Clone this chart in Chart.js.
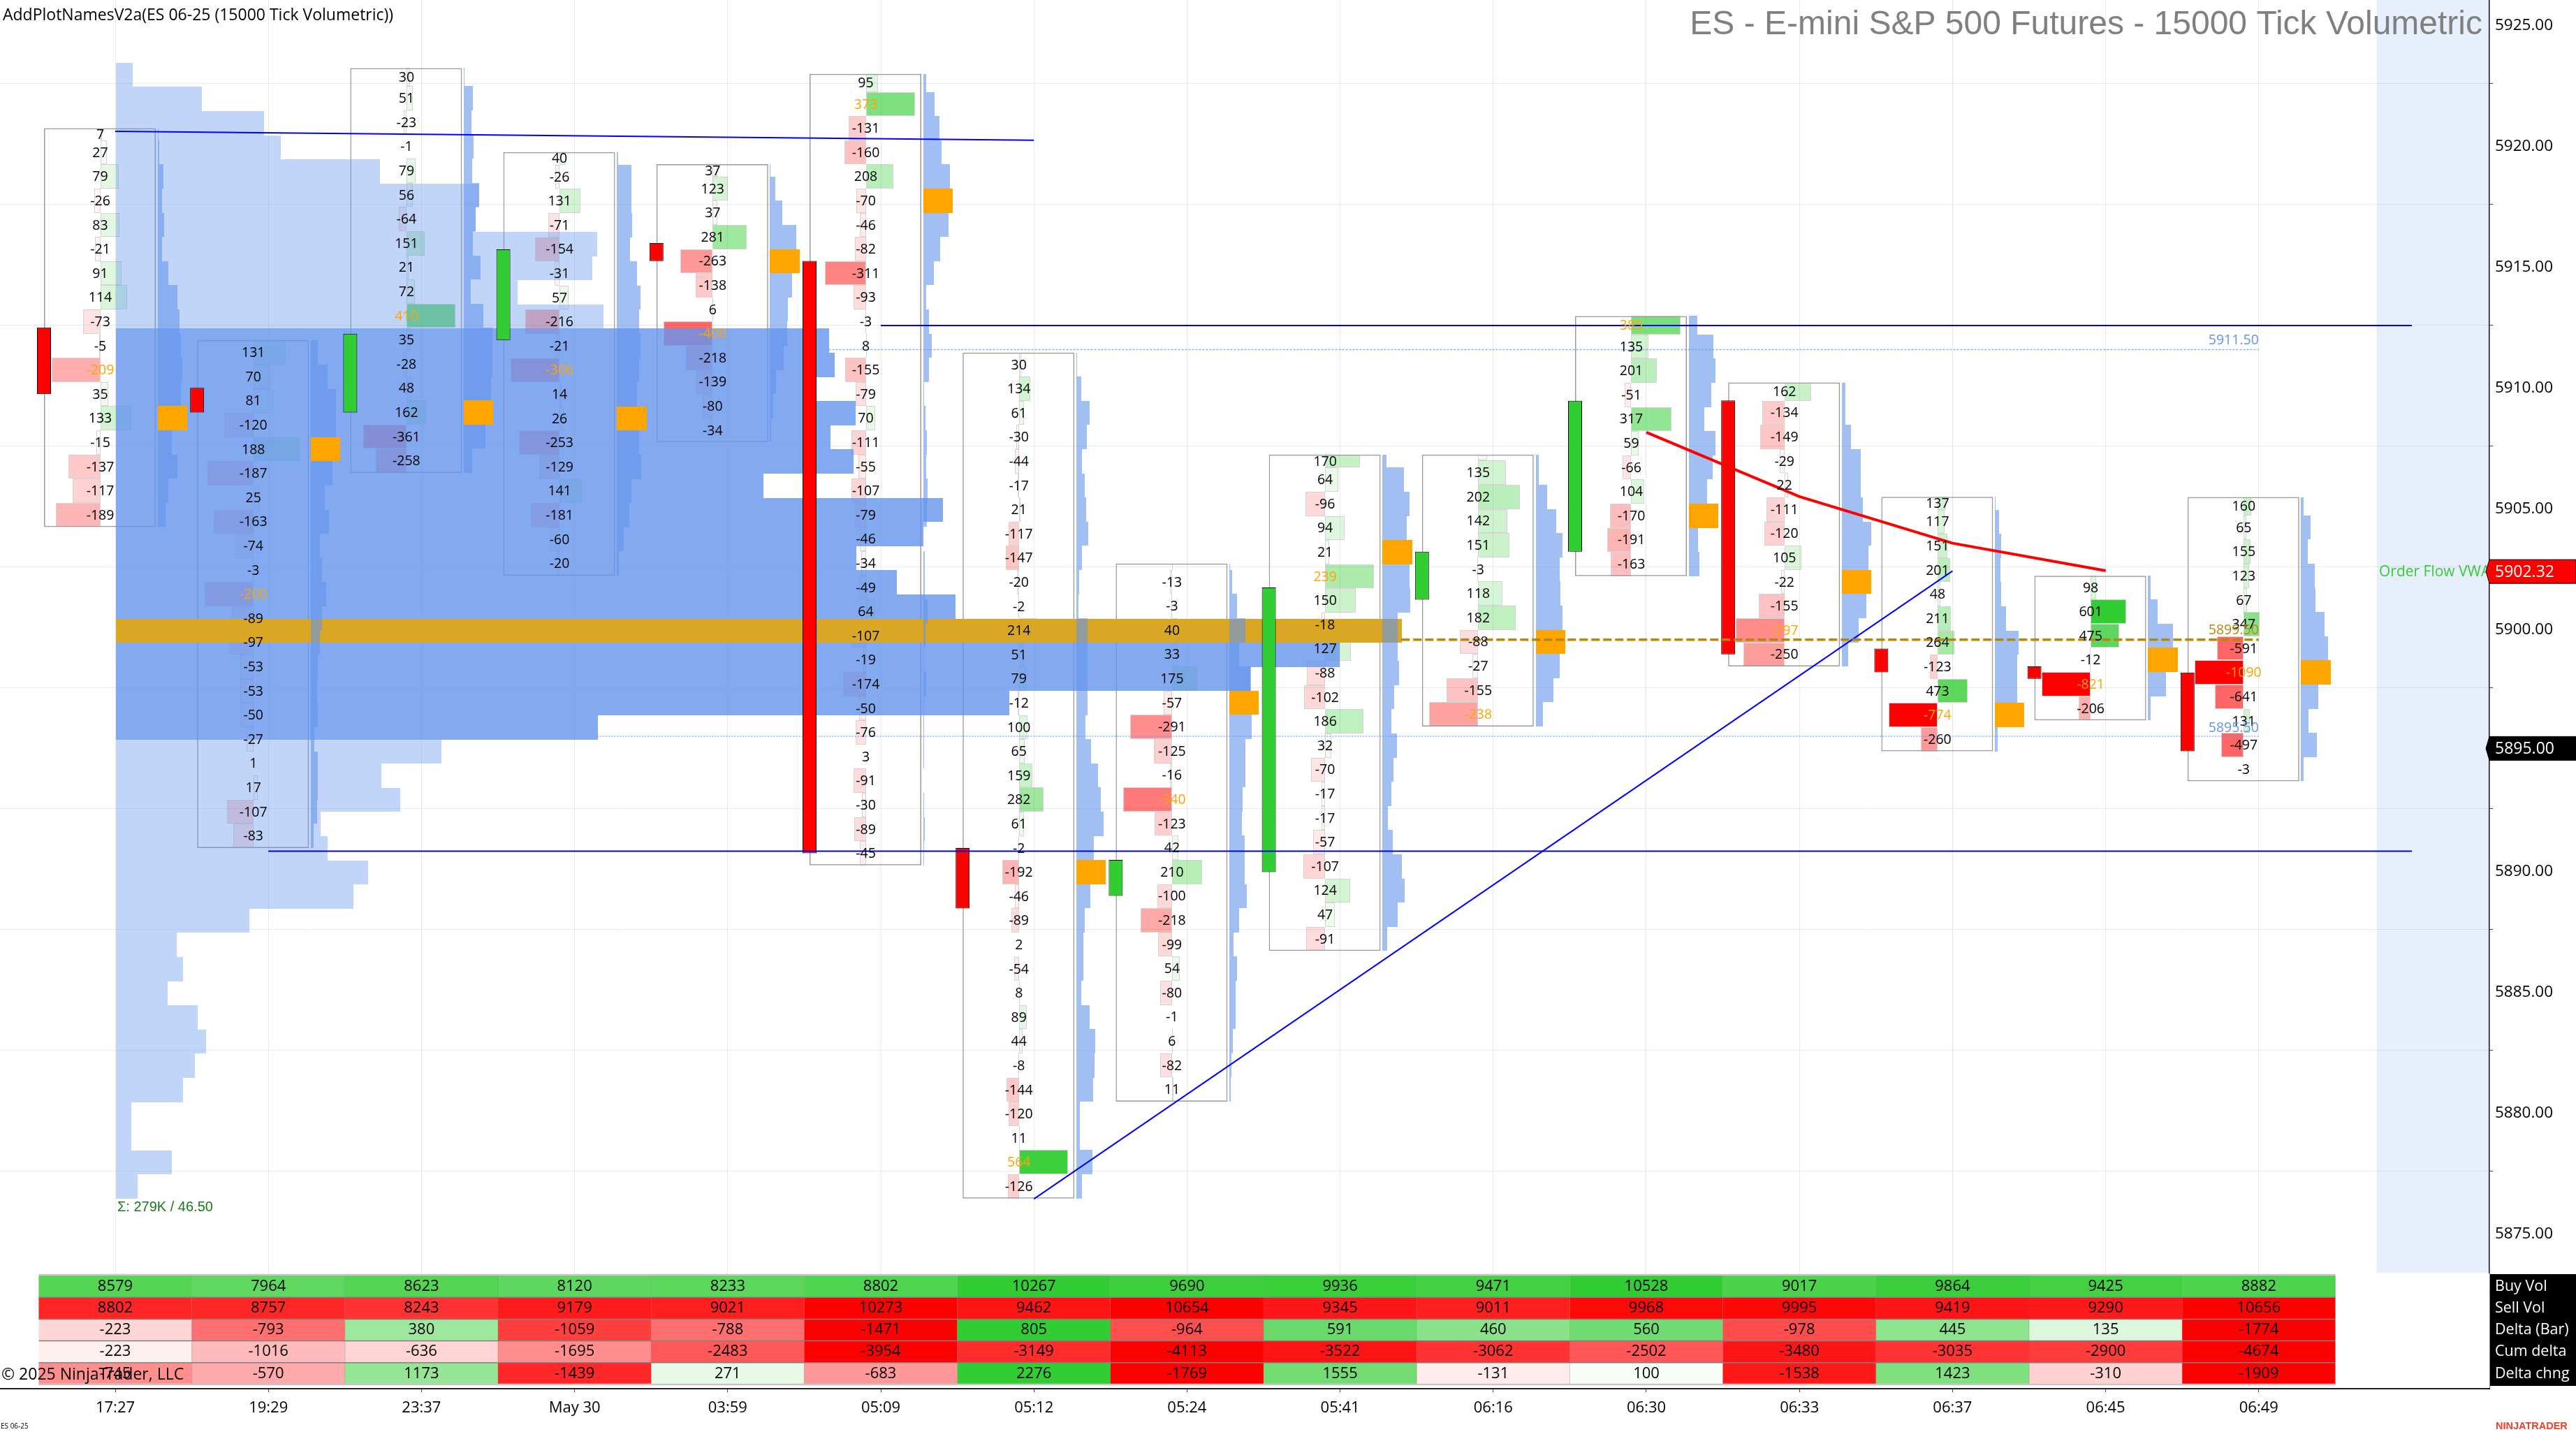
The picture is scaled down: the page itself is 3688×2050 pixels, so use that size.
<!DOCTYPE html>
<html>
<head>
<meta charset="utf-8">
<title>ES - E-mini S&amp;P 500 Futures - 15000 Tick Volumetric</title>
<script src="https://cdn.jsdelivr.net/npm/chart.js@4"></script>
<style>
  html, body { margin: 0; background: #fff; }
  canvas { display: block; }
</style>
</head>
<body>
<canvas id="chart" width="3688" height="2050"></canvas>
<script>
// data
const timeLabels = ["17:27", "19:29", "23:37", "May 30", "03:59", "05:09", "05:12", "05:24", "05:41", "06:16", "06:30", "06:33", "06:37", "06:45", "06:49"];
const priceTicks = [5875, 5880, 5885, 5890, 5895, 5900, 5905, 5910, 5915, 5920, 5925];

const candleOpen = [5912.42, 5909.92, 5908.90, 5911.90, 5915.91, 5915.17, 5890.88, 5888.90, 5889.88, 5901.15, 5903.14, 5909.40, 5899.13, 5898.39, 5898.14];
const candleClose = [5909.66, 5908.90, 5912.16, 5915.65, 5915.16, 5890.66, 5888.38, 5890.39, 5901.66, 5903.14, 5909.38, 5898.89, 5898.15, 5897.88, 5894.88];
const boxHigh = [5920.66, 5911.90, 5923.15, 5919.67, 5919.17, 5922.91, 5911.38, 5902.65, 5907.16, 5907.16, 5912.89, 5910.14, 5905.41, 5902.14, 5905.40];
const boxLow = [5904.16, 5890.88, 5906.40, 5902.15, 5907.66, 5890.16, 5876.38, 5880.39, 5886.62, 5895.91, 5902.13, 5898.39, 5894.88, 5896.16, 5893.64];

// delta per price row, top row first
const barDeltas = [
  [7, 27, 79, -26, 83, -21, 91, 114, -73, -5, -209, 35, 133, -15, -137, -117, -189],
  [131, 70, 81, -120, 188, -187, 25, -163, -74, -3, -200, -89, -97, -53, -53, -50, -27, 1, 17, -107, -83],
  [30, 51, -23, -1, 79, 56, -64, 151, 21, 72, 410, 35, -28, 48, 162, -361, -258],
  [40, -26, 131, -71, -154, -31, 57, -216, -21, -306, 14, 26, -253, -129, 141, -181, -60, -20],
  [37, 123, 37, 281, -263, -138, 6, -400, -218, -139, -80, -34],
  [95, 373, -131, -160, 208, -70, -46, -82, -311, -93, -3, 8, -155, -79, 70, -111, -55, -107, -79, -46, -34, -49, 64, -107, -19, -174, -50, -76, 3, -91, -30, -89, -45],
  [30, 134, 61, -30, -44, -17, 21, -117, -147, -20, -2, 214, 51, 79, -12, 100, 65, 159, 282, 61, -2, -192, -46, -89, 2, -54, 8, 89, 44, -8, -144, -120, 11, 564, -126],
  [4, -13, -3, 40, 33, 175, -57, -291, -125, -16, -340, -123, 42, 210, -100, -218, -99, 54, -80, -1, 6, -82, 11],
  [170, 64, -96, 94, 21, 239, 150, -18, 127, -88, -102, 186, 32, -70, -17, -17, -57, -107, 124, 47, -91],
  [43, 135, 202, 142, 151, -3, 118, 182, -88, -27, -155, -238],
  [385, 135, 201, -51, 317, 59, -66, 104, -170, -191, -163],
  [162, -134, -149, -29, 22, -111, -120, 105, -22, -155, -297, -250],
  [137, 117, 151, 201, 48, 211, 264, -123, 473, -774, -260],
  [98, 601, 475, -12, -821, -206],
  [160, 65, 155, 123, 67, 347, -591, -1090, -641, 131, -497, -3]
];

// volume per price row as percent of that bar's busiest row, top row first
const barProfiles = [
  [3, 5, 20, 14, 21, 14, 35, 67, 73, 79, 83, 79, 100, 47, 67, 35, 26],
  [23, 58, 86, 86, 100, 73, 48, 62, 32, 38, 52, 38, 32, 24, 21, 23, 12, 24, 24, 21, 9],
  [3, 31, 25, 34, 28, 51, 40, 31, 57, 24, 66, 96, 97, 91, 100, 73, 28],
  [3, 48, 48, 52, 45, 68, 80, 74, 80, 76, 68, 100, 76, 83, 50, 42, 23, 6],
  [2, 17, 41, 88, 100, 75, 60, 58, 45, 19, 11, 4],
  [11, 38, 56, 62, 91, 100, 85, 57, 37, 9, 20, 30, 20, 4, 7, 12, 9, 15, 12, 1, 5, 6, 15, 7, 2, 9, 2, 4, 2, 1, 2, 5, 2],
  [2, 16, 45, 35, 20, 28, 33, 40, 18, 9, 7, 39, 38, 38, 38, 32, 49, 74, 83, 93, 60, 100, 48, 28, 23, 23, 16, 45, 63, 61, 56, 13, 13, 54, 20],
  [2, 10, 26, 54, 32, 72, 100, 76, 55, 55, 44, 43, 52, 51, 59, 33, 15, 26, 20, 22, 12, 7, 4],
  [14, 72, 92, 81, 100, 92, 94, 52, 52, 55, 40, 30, 49, 37, 29, 19, 34, 65, 75, 52, 16],
  [10, 10, 39, 69, 92, 82, 85, 92, 100, 81, 61, 26],
  [28, 84, 90, 77, 52, 90, 81, 61, 100, 31, 37],
  [12, 12, 32, 63, 63, 71, 99, 89, 100, 83, 57, 22],
  [2, 14, 21, 19, 20, 38, 80, 75, 75, 100, 9],
  [9, 33, 85, 100, 60, 9],
  [9, 32, 22, 47, 49, 79, 91, 100, 58, 26, 53, 9]
];

// session volume profile, top row first
const sessionVolume = [246, 1226, 2098, 2334, 3733, 5132, 5083, 6797, 6728, 5674, 6885,
  10067, 10146, 9801, 10441, 10086, 10411, 9141, 11672, 11396, 10451, 11022, 11850,
  18144,
  17267, 16006, 12608, 6806,
  4600, 3753, 4019, 2891, 2994, 3566, 3359, 1891, 867, 955, 739, 1162, 1281, 1119, 955, 227, 227, 798, 315];
const sessionLow = 5876.37;
const sessionPocRow = 23;
const sessionVaTopRow = 11;
const sessionVaBottomRow = 27;

const buyVol = [8579, 7964, 8623, 8120, 8233, 8802, 10267, 9690, 9936, 9471, 10528, 9017, 9864, 9425, 8882];
const sellVol = [8802, 8757, 8243, 9179, 9021, 10273, 9462, 10654, 9345, 9011, 9968, 9995, 9419, 9290, 10656];
const deltaBar = [-223, -793, 380, -1059, -788, -1471, 805, -964, 591, 460, 560, -978, 445, 135, -1774];
const cumDelta = [-223, -1016, -636, -1695, -2483, -3954, -3149, -4113, -3522, -3062, -2502, -3480, -3035, -2900, -4674];
const deltaChange = [-745, -570, 1173, -1439, 271, -683, 2276, -1769, 1555, -131, 100, -1538, 1423, -310, -1909];
const tableNames = ["Buy Vol", "Sell Vol", "Delta (Bar)", "Cum delta", "Delta chng"];

// drawn lines, x is the bar slot
const upperTrendX = [0, 6];
const upperTrendY = [5920.53, 5920.16];
const highLevelX = [5, 15];
const highLevelY = [5912.5, 5912.5];
const lowLevelX = [1, 15];
const lowLevelY = [5890.75, 5890.75];
const riseTrendX = [6, 12];
const riseTrendY = [5876.36, 5902.34];
const vwapX = [10, 11, 12, 13];
const vwapY = [5908.08, 5905.42, 5903.49, 5902.35];
const pocLineX = [8.4, 14];
const pocLineY = [5899.5, 5899.5];
const vahLineX = [4.66, 14];
const vahLineY = [5911.5, 5911.5];
const valLineX = [3.15, 14];
const valLineY = [5895.5, 5895.5];

const SLOT_PX = 219.2;
const ROW_PX = 34.6;
const TICK0_PX = 165;
const CANDLE_X = -102 / SLOT_PX;
const BOX_X = -22 / SLOT_PX;
const DELTA_X = -21.5 / SLOT_PX;
const PROFILE_X = 60.7 / SLOT_PX;
const DELTA_SPAN = 70 / SLOT_PX;
const PROFILE_SPAN = 42.3 / SLOT_PX;
const SESSION_SCALE = 2159; // contracts per slot width
const UI_FONT = '"Open Sans"';

const CORNFLOWER = "100,149,237";
const LIME = "50,205,50";

function rowsOfBar(i) {
  const n = barDeltas[i].length;
  return barDeltas[i].map((delta, r) => {
    const lo = boxLow[i] + (n - 1 - r);
    const hi = Math.min(lo + 1, boxHigh[i]);
    return { delta, volume: barProfiles[i][r], mid: (lo + hi) / 2, px: (hi - lo) * ROW_PX, full: hi - lo > 0.999 };
  });
}

function deltaColor(v) {
  const a = Math.abs(v);
  if (v >= 0) return `rgba(${LIME},${Math.min(1, a / 600)})`;
  return `rgba(255,0,0,${a < 700 ? Math.min(0.6, a / 650) : 1})`;
}

function hBars(data, colors, thickness, border) {
  return {
    type: "bar", indexAxis: "y", data, backgroundColor: colors,
    barThickness: thickness, grouped: false, inflateAmount: 0, borderSkipped: false,
    borderWidth: border ? 1 : 0, borderColor: border || "transparent"
  };
}

function vBars(data, colors, thickness, borderColor, borderWidth) {
  return {
    type: "bar", data, backgroundColor: colors, borderColor, borderWidth,
    barThickness: thickness, grouped: false, inflateAmount: 0, borderSkipped: false
  };
}

function lineSet(xs, ys, color, width, dash) {
  return {
    type: "line", data: xs.map((x, k) => ({ x, y: ys[k] })), borderColor: color, borderWidth: width,
    borderDash: dash || [], pointRadius: 0, tension: 0, fill: false, borderCapStyle: "butt"
  };
}

function buildDatasets() {
  const out = [];

  // delta cells, the clipped top row of a bar gets its own thickness
  timeLabels.forEach((_, i) => {
    const rows = rowsOfBar(i);
    const width = DELTA_SPAN / Math.max(...barDeltas[i].map(Math.abs));
    const full = rows.filter(r => r.full);
    out.push(hBars(full.map(r => ({ y: r.mid, x: [i + DELTA_X, i + DELTA_X + r.delta * width] })),
      full.map(r => deltaColor(r.delta)), ROW_PX, "rgba(120,120,120,0.32)"));
    rows.filter(r => !r.full).forEach(r => {
      out.push(hBars([{ y: r.mid, x: [i + DELTA_X, i + DELTA_X + r.delta * width] }],
        [deltaColor(r.delta)], r.px, "rgba(120,120,120,0.32)"));
    });
  });

  // bar outlines
  out.push(vBars(timeLabels.map((_, i) => ({ x: i + BOX_X, y: [boxLow[i], boxHigh[i]] })),
    "rgba(0,0,0,0)", 160, "#9a9a9a", 1.5));

  // session profile on top of the cells
  const sessionColors = sessionVolume.map((_, r) => {
    if (r === sessionPocRow) return "rgb(218,167,36)";
    if (r >= sessionVaTopRow && r <= sessionVaBottomRow) return `rgba(${CORNFLOWER},0.8)`;
    return `rgba(${CORNFLOWER},0.4)`;
  });
  out.push(hBars(sessionVolume.map((v, r) => ({
    y: sessionLow + (sessionVolume.length - 1 - r) + 0.5,
    x: [0, v / SESSION_SCALE]
  })), sessionColors, ROW_PX));

  // profile next to each bar, busiest row in orange
  timeLabels.forEach((_, i) => {
    const rows = rowsOfBar(i);
    const color = r => (r.volume === 100 ? "#FFA500" : `rgba(${CORNFLOWER},0.6)`);
    const bar = r => ({ y: r.mid, x: [i + PROFILE_X, i + PROFILE_X + r.volume / 100 * PROFILE_SPAN] });
    const full = rows.filter(r => r.full);
    out.push(hBars(full.map(bar), full.map(color), ROW_PX));
    rows.filter(r => !r.full).forEach(r => out.push(hBars([bar(r)], [color(r)], r.px)));
  });

  out.push(lineSet(vahLineX, vahLineY, `rgba(${CORNFLOWER},0.75)`, 1.5, [3, 2]));
  out.push(lineSet(valLineX, valLineY, `rgba(${CORNFLOWER},0.55)`, 2, [2, 2]));

  // candles
  out.push(vBars(timeLabels.map((_, i) => ({ x: i + CANDLE_X, y: [candleOpen[i], candleClose[i]] })),
    timeLabels.map((_, i) => (candleClose[i] > candleOpen[i] ? `rgb(${LIME})` : "#ff0000")), 20, "#000", 1));

  out.push(lineSet(upperTrendX, upperTrendY, "#0000ff", 2));
  out.push(lineSet(highLevelX, highLevelY, "#0000ff", 2));
  out.push(lineSet(lowLevelX, lowLevelY, "#0000ff", 2));
  out.push(lineSet(riseTrendX, riseTrendY, "#0000ff", 2));
  out.push(lineSet(vwapX, vwapY, "#ff0000", 4));
  out.push(lineSet(pocLineX, pocLineY, "#b8860b", 3.5, [12, 5]));

  // chart.js paints the lowest order last
  out.forEach((d, k) => { d.order = -k; });
  return out;
}

function text(ctx, str, x, y, font, color, align) {
  ctx.font = font;
  ctx.fillStyle = color;
  ctx.textAlign = align || "left";
  ctx.textBaseline = "middle";
  ctx.fillText(str, x, y);
}

function priceFlag(ctx, x0, y, label, color) {
  ctx.beginPath();
  ctx.moveTo(x0 - 5, y);
  ctx.lineTo(x0, y - 17);
  ctx.lineTo(3688, y - 17);
  ctx.lineTo(3688, y + 17);
  ctx.lineTo(x0, y + 17);
  ctx.closePath();
  ctx.fillStyle = color;
  ctx.fill();
  ctx.strokeStyle = "#000";
  ctx.lineWidth = 1;
  ctx.stroke();
  text(ctx, label, x0 + 8, y + 1, `23px ${UI_FONT}`, "#fff");
}

const tableTop = 1826;
const tableRowPx = 31.2;
const tableSeries = [buyVol, sellVol, deltaBar, cumDelta, deltaChange];
const tableFullUp = [10267, 10273, 805, 3800, 2276];
const tableFullDown = [10267, 10273, 1400, 3800, 1700];

function tableColor(row, v) {
  const red = row === 1 || v < 0;
  const full = red ? tableFullDown[row] : tableFullUp[row];
  const a = Math.min(1, Math.abs(v) / full);
  return red ? `rgba(255,0,0,${a})` : `rgba(${LIME},${a})`;
}

function drawTable(chart, ctx) {
  const x = chart.scales.x;
  const area = chart.chartArea;
  const rows = tableSeries.length;
  const left = x.getPixelForValue(-0.5);
  const right = x.getPixelForValue(timeLabels.length - 0.5);

  ctx.fillStyle = "#fff";
  ctx.fillRect(0, tableTop - 3, area.right, area.bottom - tableTop + 2);

  tableSeries.forEach((series, r) => {
    const y = tableTop + r * tableRowPx;
    series.forEach((v, i) => {
      const xa = x.getPixelForValue(i - 0.5);
      const xb = x.getPixelForValue(i + 0.5);
      ctx.fillStyle = tableColor(r, v);
      ctx.fillRect(xa, y, xb - xa, tableRowPx);
      ctx.strokeStyle = "rgba(120,120,120,0.35)";
      ctx.lineWidth = 1;
      ctx.beginPath();
      ctx.moveTo(xb, y);
      ctx.lineTo(xb, y + tableRowPx);
      ctx.stroke();
    });
  });

  ctx.strokeStyle = "#808080";
  ctx.lineWidth = 1.5;
  for (let r = 1; r < rows; r++) {
    ctx.beginPath();
    ctx.moveTo(left, tableTop + r * tableRowPx);
    ctx.lineTo(right, tableTop + r * tableRowPx);
    ctx.stroke();
  }
  ctx.strokeStyle = "#c8c8c8";
  ctx.lineWidth = 2.5;
  [tableTop - 1, tableTop + rows * tableRowPx].forEach(y => {
    ctx.beginPath();
    ctx.moveTo(left, y);
    ctx.lineTo(right, y);
    ctx.stroke();
  });

  tableSeries.forEach((series, r) => {
    const y = tableTop + (r + 0.5) * tableRowPx;
    series.forEach((v, i) => text(ctx, String(v), x.getPixelForValue(i), y, `22px ${UI_FONT}`, "#000", "center"));
  });

  // row names on the axis side
  ctx.fillStyle = "#000";
  ctx.fillRect(area.right + 1, tableTop - 2, 3688 - area.right, rows * tableRowPx + 4);
  tableNames.forEach((name, r) => {
    text(ctx, name, area.right + 8, tableTop + (r + 0.5) * tableRowPx, `21.5px ${UI_FONT}`, "#fff");
  });
}

const footprintPlugin = {
  id: "footprint",
  // round the horizontal rows to whole pixels so stacked rows show no seams
  afterDatasetsUpdate(chart) {
    chart.getSortedVisibleDatasetMetas().forEach(meta => {
      if (meta.type !== "bar" || meta.indexAxis !== "y") return;
      meta.data.forEach(el => {
        const top = Math.round(el.y - el.height / 2);
        const bottom = Math.round(el.y + el.height / 2);
        el.y = (top + bottom) / 2;
        el.height = bottom - top;
        el.x = Math.round(el.x);
        el.base = Math.round(el.base);
      });
    });
  },
  beforeDatasetsDraw(chart) {
    const { ctx, scales: { x } } = chart;
    const bandLeft = x.getPixelForValue(14.77);
    ctx.save();
    ctx.fillStyle = `rgba(${CORNFLOWER},0.15)`;
    ctx.fillRect(bandLeft, 0, chart.chartArea.right - bandLeft, 1822);
    ctx.restore();
  },
  afterDatasetsDraw(chart) {
    const { ctx, scales: { x, y }, chartArea: area } = chart;
    ctx.save();

    // delta numbers, the largest of each bar in orange
    timeLabels.forEach((_, i) => {
      const top = Math.max(...barDeltas[i].map(Math.abs));
      rowsOfBar(i).forEach(r => {
        if (r.px < 12) return;
        text(ctx, String(r.delta), x.getPixelForValue(i + DELTA_X), y.getPixelForValue(r.mid) + 1,
          `19.5px ${UI_FONT}`, Math.abs(r.delta) === top ? "#FFA500" : "#000", "center");
      });
    });

    const levelFont = `19.5px ${UI_FONT}`;
    text(ctx, "5899.50", x.getPixelForValue(14), y.getPixelForValue(5899.5) - 13, levelFont, "#b8860b", "right");
    text(ctx, "5911.50", x.getPixelForValue(14), y.getPixelForValue(5911.5) - 13, levelFont, `rgb(${CORNFLOWER})`, "right");
    text(ctx, "5895.50", x.getPixelForValue(14), y.getPixelForValue(5895.5) - 12, levelFont, `rgb(${CORNFLOWER})`, "right");

    text(ctx, "\u03A3: 279K / 46.50", x.getPixelForValue(0) + 3, 1728, '20px "Liberation Sans"', "#1a7a1a");
    text(ctx, "Order Flow VWAP", 3406, y.getPixelForValue(5902.32) + 1, `21px ${UI_FONT}`, `rgb(${LIME})`);

    drawTable(chart, ctx);
    text(ctx, "\u00A9 2025 NinjaTrader, LLC", 2, 1968, `23px ${UI_FONT}`, "#000");

    priceFlag(ctx, area.right, y.getPixelForValue(5902.32), "5902.32", "#ff0000");
    priceFlag(ctx, area.right, y.getPixelForValue(5895), "5895.00", "#000");

    text(ctx, "AddPlotNamesV2a(ES 06-25 (15000 Tick Volumetric))", 4, 22, `23px ${UI_FONT}`, "#000");
    text(ctx, "ES - E-mini S&P 500 Futures - 15000 Tick Volumetric", 3554, 36, '48px "Liberation Sans"', "#808080", "right");
    text(ctx, "ES 06-25", 1, 2042, `10px ${UI_FONT}`, "#000");
    text(ctx, "NINJATRADER", 3573, 2042, 'bold 14.5px "Liberation Sans"', "#e8432e");
    ctx.restore();
  }
};

new Chart(document.getElementById("chart"), {
  type: "bar",
  data: { datasets: buildDatasets() },
  options: {
    responsive: false,
    animation: false,
    events: [],
    layout: { padding: 0 },
    plugins: { legend: { display: false }, tooltip: { enabled: false } },
    scales: {
      x: {
        type: "linear",
        position: "bottom",
        offset: false,
        min: -TICK0_PX / SLOT_PX,
        max: (3564 - TICK0_PX) / SLOT_PX,
        grid: { color: "#e9e9e9", lineWidth: 1, offset: false, tickColor: "#444", tickLength: 5 },
        border: { color: "#222", width: 2 },
        ticks: {
          autoSkip: false, maxRotation: 0, padding: 10, color: "#000",
          font: { family: "Open Sans", size: 22 },
          callback: v => timeLabels[v] ?? ""
        },
        afterBuildTicks: s => { s.ticks = timeLabels.map((_, i) => ({ value: i })); },
        afterFit: s => { s.height = 62; s.paddingLeft = 0; s.paddingRight = 0; }
      },
      y: {
        type: "linear",
        position: "right",
        offset: false,
        min: 5890 - (1988 - 1244.4) / ROW_PX,
        max: 5890 + 1244.4 / ROW_PX,
        grid: { color: "#e9e9e9", lineWidth: 1, tickColor: "#444", tickLength: 5 },
        border: { color: "#000", width: 1.5 },
        ticks: {
          autoSkip: false, padding: 3, color: "#000", labelOffset: 3,
          font: { family: "Open Sans", size: 22.5 },
          callback: v => (v === 5895 ? "" : v.toFixed(2))
        },
        afterBuildTicks: s => { s.ticks = priceTicks.map(value => ({ value })); },
        afterFit: s => { s.width = 124; s.paddingTop = 0; s.paddingBottom = 0; }
      }
    }
  },
  plugins: [footprintPlugin]
});
</script>
</body>
</html>
